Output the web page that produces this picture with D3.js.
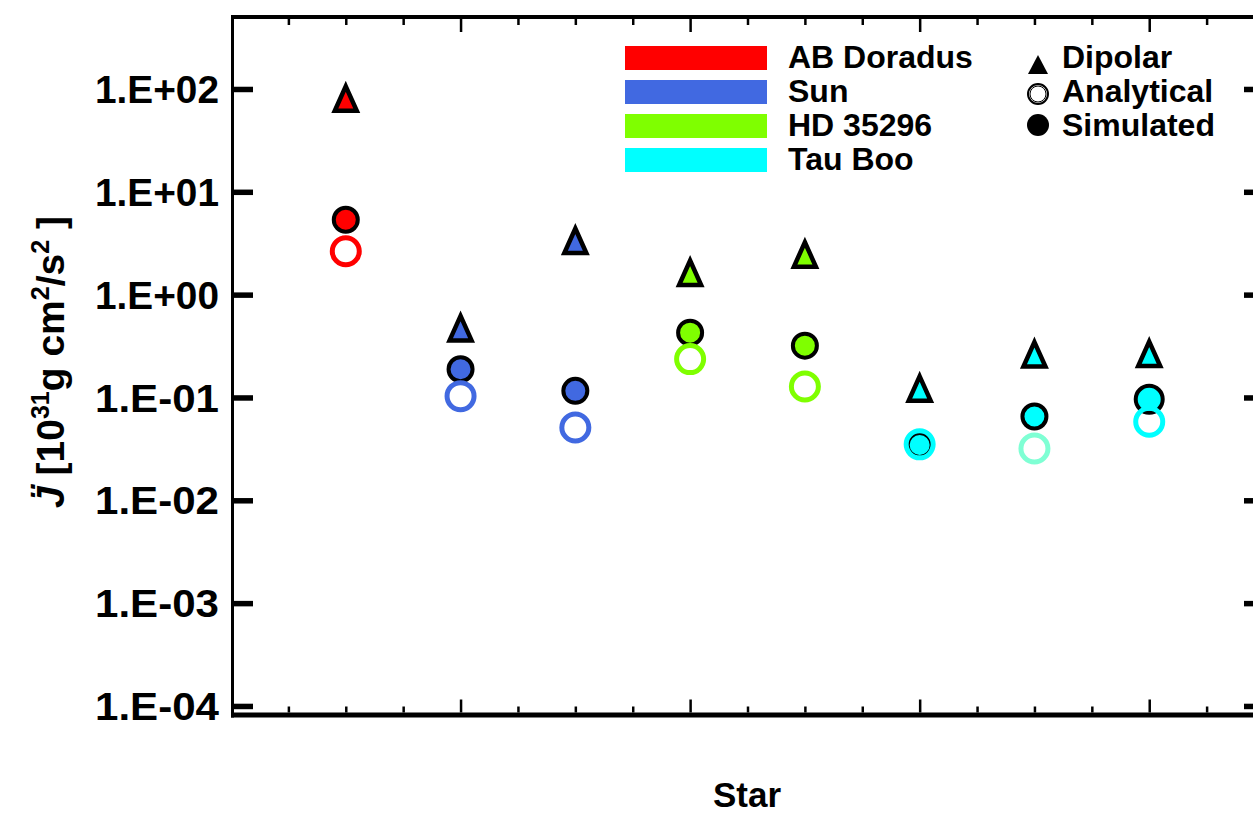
<!DOCTYPE html>
<html>
<head>
<meta charset="utf-8">
<script src="https://cdn.jsdelivr.net/npm/d3@7"></script>
<style>
  html, body { margin: 0; padding: 0; background: #fff; }
  svg { display: block; }
  text { font-family: "Liberation Sans", Arial, Helvetica, sans-serif; fill: #000; }
</style>
</head>
<body>
<svg id="chart" width="1253" height="815"></svg>
<script>
// Stars along the x axis (1..8) and the system each one belongs to
const starIndex = [1, 2, 3, 4, 5, 6, 7, 8];
const starSystem = ["AB Doradus", "Sun", "Sun", "HD 35296", "HD 35296", "Tau Boo", "Tau Boo", "Tau Boo"];

// Angular momentum loss rate, units of 1e31 g cm^2/s^2
const dipolar    = [82, 0.48, 3.4, 1.66, 2.5, 0.124, 0.267, 0.27];
const simulated  = [5.35, 0.188, 0.116, 0.427, 0.319, 0.0345, 0.0653, 0.096];
const analytical = [2.64, 0.103, 0.051, 0.236, 0.128, 0.035, 0.0319, 0.058];

// Legend entries
const systems = ["AB Doradus", "Sun", "HD 35296", "Tau Boo"];
const systemColors = ["#ff0000", "#4169e1", "#7fff00", "#00ffff"];
const symbolLabels = ["Dipolar", "Analytical", "Simulated"];

// Y axis decades and their labels
const yTicks = [1e2, 1e1, 1e0, 1e-1, 1e-2, 1e-3, 1e-4];
const yTickLabels = ["1.E+02", "1.E+01", "1.E+00", "1.E-01", "1.E-02", "1.E-03", "1.E-04"];

const svg = d3.select("#chart");
const plotL = 231, plotR = 1264, plotT = 17, plotB = 715;

const x = d3.scaleLinear().domain([0, 9]).range([plotL, plotR]);
const y = d3.scaleLog().domain([Math.pow(10, -4.088), Math.pow(10, 2.70)]).range([plotB, plotT]);
const color = d3.scaleOrdinal().domain(systems).range(systemColors);

// ---- frame ----
const frame = svg.append("g");
frame.append("line").attr("x1", plotL + 1.5).attr("x2", plotL + 1.5).attr("y1", plotT - 2).attr("y2", plotB + 2.5)
  .attr("stroke", "#000").attr("stroke-width", 3);
frame.append("line").attr("x1", plotR).attr("x2", plotR).attr("y1", plotT - 2).attr("y2", plotB + 2.5)
  .attr("stroke", "#000").attr("stroke-width", 3);
frame.append("line").attr("x1", plotL).attr("x2", 1260).attr("y1", plotT).attr("y2", plotT)
  .attr("stroke", "#000").attr("stroke-width", 4);
frame.append("line").attr("x1", plotL).attr("x2", 1260).attr("y1", plotB).attr("y2", plotB)
  .attr("stroke", "#000").attr("stroke-width", 5);

// ---- x ticks (major at even stars, minor every half star) ----
const xTickVals = d3.range(1, 18).map(d => d / 2);
const isMajor = v => v % 2 === 0;
const gxb = svg.append("g").attr("transform", `translate(0,${plotB - 2.5})`)
  .call(d3.axisBottom(x).tickValues(xTickVals).tickFormat("").tickSizeOuter(0));
gxb.select(".domain").remove();
gxb.selectAll(".tick line")
  .attr("y2", d => isMajor(d) ? -13 : -6)
  .attr("stroke", "#000").attr("stroke-width", 2.5);

const gxt = svg.append("g").attr("transform", `translate(0,${plotT + 2})`)
  .call(d3.axisTop(x).tickValues(xTickVals).tickFormat("").tickSizeOuter(0));
gxt.select(".domain").remove();
gxt.selectAll(".tick line")
  .attr("y2", d => isMajor(d) ? 13 : 6)
  .attr("stroke", "#000").attr("stroke-width", 2.5);

// ---- y ticks with labels on the left, plain ticks on the right ----
const gyl = svg.append("g").attr("transform", `translate(${plotL + 2},0)`)
  .call(d3.axisLeft(y).tickValues(yTicks).tickFormat((d, i) => yTickLabels[i]).tickSizeOuter(0).tickSizeInner(0).tickPadding(14));
gyl.select(".domain").remove();
gyl.selectAll(".tick line").attr("x2", 20).attr("stroke", "#000").attr("stroke-width", 5.5);
gyl.selectAll(".tick text")
  .attr("font-size", 38).attr("font-weight", "bold").attr("dy", "0.36em")
  .attr("textLength", 124).attr("lengthAdjust", "spacingAndGlyphs");

const gyr = svg.append("g").attr("transform", `translate(${plotR},0)`)
  .call(d3.axisRight(y).tickValues(yTicks).tickFormat("").tickSizeOuter(0));
gyr.select(".domain").remove();
gyr.selectAll(".tick line").attr("x2", -20).attr("stroke", "#000").attr("stroke-width", 5.5);

// ---- axis titles ----
svg.append("text").attr("x", 747).attr("y", 807).attr("text-anchor", "middle")
  .attr("font-size", 35).attr("font-weight", "bold").text("Star");

const yt = svg.append("text").attr("transform", "translate(64,362) rotate(-90)")
  .attr("text-anchor", "middle").attr("font-size", 39).attr("font-weight", "bold");
yt.append("tspan").attr("font-style", "italic").text("J\u0308");
yt.append("tspan").text(" [10");
yt.append("tspan").attr("font-size", 25).attr("dy", -15).text("31");
yt.append("tspan").attr("dy", 15).text("g cm");
yt.append("tspan").attr("font-size", 25).attr("dy", -15).text("2");
yt.append("tspan").attr("dy", 15).text("/s");
yt.append("tspan").attr("font-size", 25).attr("dy", -15).text("2");
yt.append("tspan").attr("dy", 15).text(" ]");

// ---- markers ----
const tri = "M0,-12.5L11,12L-11,12Z";
const pts = svg.append("g");
const aquamarine = "#7fffd4";
const analyticalColor = (d, i) => i === 6 ? aquamarine : color(starSystem[i]);

pts.selectAll("path.dip").data(dipolar).join("path").attr("class", "dip")
  .attr("d", tri)
  .attr("transform", (d, i) => `translate(${x(starIndex[i])},${y(d) + 1})`)
  .attr("fill", (d, i) => color(starSystem[i]))
  .attr("stroke", "#000").attr("stroke-width", 4.5).attr("stroke-linejoin", "miter");

pts.selectAll("circle.sim").data(simulated).join("circle").attr("class", "sim")
  .attr("cx", (d, i) => x(starIndex[i])).attr("cy", d => y(d))
  .attr("r", (d, i) => i === 7 ? 13.5 : 12)
  .attr("fill", (d, i) => color(starSystem[i]))
  .attr("stroke", "#000").attr("stroke-width", 4);

pts.selectAll("circle.ana").data(analytical).join("circle").attr("class", "ana")
  .attr("cx", (d, i) => x(starIndex[i])).attr("cy", d => y(d))
  .attr("r", 13.5)
  .attr("fill", "none")
  .attr("stroke", analyticalColor).attr("stroke-width", 5);

// ---- legend: colour bars ----
const leg = svg.append("g");
const rowY = i => 46 + i * 34;
leg.selectAll("rect").data(systems).join("rect")
  .attr("x", 625).attr("y", (d, i) => rowY(i)).attr("width", 142).attr("height", 24)
  .attr("fill", d => color(d));
leg.selectAll("text.sys").data(systems).join("text").attr("class", "sys")
  .attr("x", 788).attr("y", (d, i) => rowY(i) + 22)
  .attr("font-size", 32).attr("font-weight", "bold").text(d => d);

// ---- legend: symbol key ----
leg.selectAll("text.sym").data(symbolLabels).join("text").attr("class", "sym")
  .attr("x", 1062).attr("y", (d, i) => rowY(i) + 22)
  .attr("font-size", 32).attr("font-weight", "bold").text(d => d);
leg.append("path").attr("d", "M0,-10L10,9L-10,9Z").attr("transform", "translate(1038,65)").attr("fill", "#000");
leg.append("circle").attr("cx", 1038).attr("cy", 94).attr("r", 10).attr("fill", "none").attr("stroke", "#000").attr("stroke-width", 2);
leg.append("circle").attr("cx", 1038).attr("cy", 94).attr("r", 8).attr("fill", "none").attr("stroke", "#000").attr("stroke-width", 1);
leg.append("circle").attr("cx", 1038).attr("cy", 125).attr("r", 11).attr("fill", "#000");
</script>
</body>
</html>
